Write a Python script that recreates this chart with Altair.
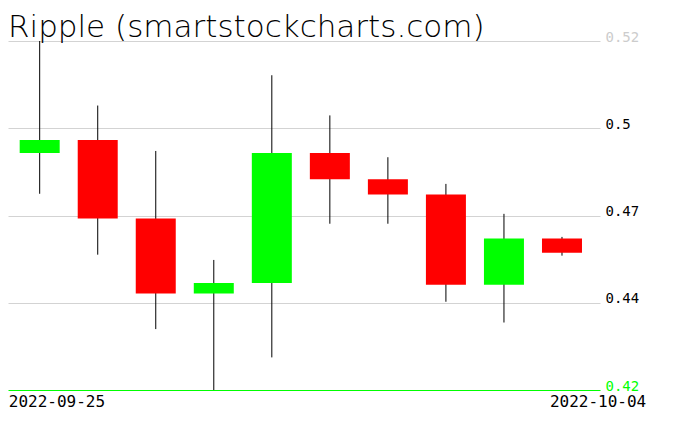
import altair as alt
import pandas as pd

# Candles (Ripple, daily)
dates = ["2022-09-25", "2022-09-26", "2022-09-27", "2022-09-28", "2022-09-29",
         "2022-09-30", "2022-10-01", "2022-10-02", "2022-10-03", "2022-10-04"]
opens = [0.4880, 0.4919, 0.4681, 0.4453, 0.4485, 0.4880, 0.4800, 0.4754, 0.4480, 0.4620]
highs = [0.5220, 0.5024, 0.4886, 0.4555, 0.5116, 0.4994, 0.4867, 0.4786, 0.4695, 0.4625]
lows = [0.4756, 0.4571, 0.4345, 0.4160, 0.4259, 0.4665, 0.4665, 0.4428, 0.4365, 0.4568]
closes = [0.4919, 0.4681, 0.4453, 0.4485, 0.4880, 0.4800, 0.4754, 0.4480, 0.4620, 0.4577]

y_ticks = [0.416, 0.4425, 0.469, 0.4955, 0.522]
title_text = "Ripple (smartstockcharts.com)"

df = pd.DataFrame({
    "idx": list(range(len(dates))),
    "date": dates,
    "open": opens,
    "high": highs,
    "low": lows,
    "close": closes,
})
df["dir"] = ["up" if c >= o else "down" for o, c in zip(opens, closes)]

x_lo, x_hi = -0.546, 9.655
x_scale = alt.Scale(domain=[x_lo, x_hi], nice=False, zero=False, padding=0)
y_scale = alt.Scale(domain=[y_ticks[0], y_ticks[-1]], nice=False, zero=False, padding=0)

label_expr = f"datum.value < 0 ? '{dates[0]}' : '{dates[-1]}'"

x_axis = alt.Axis(
    values=[x_lo + 0.005, x_hi - 0.005],
    labelExpr=label_expr,
    grid=False, domain=False, ticks=False, tickSize=0,
    labelFont="DejaVu Sans Mono", labelFontSize=16, labelColor="black",
    labelBaseline="alphabetic", labelPadding=16,
    labelAlign={"condition": {"test": "datum.value < 0", "value": "left"}, "value": "right"},
    labelOffset={"condition": {"test": "datum.value < 0", "value": 0}, "value": 46},
    labelBound=False, labelFlush=False, labelOverlap=False, title=None,
)

y_axis = alt.Axis(
    orient="right", values=y_ticks, format=".2~f",
    grid=True,
    gridColor={"condition": {"test": f"datum.value < {y_ticks[0] + 0.001}", "value": "#00ff00"}, "value": "#d3d3d3"},
    domain=False, ticks=False, tickSize=0,
    labelFont="DejaVu Sans Mono", labelFontSize=14,
    labelColor={"condition": [
        {"test": f"datum.value < {y_ticks[0] + 0.001}", "value": "#00ff00"},
        {"test": f"datum.value > {y_ticks[-1] - 0.001}", "value": "#cccccc"},
    ], "value": "black"},
    labelBaseline="alphabetic", labelPadding=5,
    labelBound=False, labelFlush=False, labelOverlap=False, title=None,
)

base = alt.Chart(df)

wicks = base.mark_rule(color="black", strokeWidth=1).encode(
    x=alt.X("idx:Q", scale=x_scale, axis=x_axis),
    y=alt.Y("low:Q", scale=y_scale, axis=y_axis),
    y2="high:Q",
)

bodies = base.mark_bar(size=40).encode(
    x=alt.X("idx:Q", scale=x_scale),
    y=alt.Y("open:Q", scale=y_scale),
    y2="close:Q",
    color=alt.Color("dir:N", scale=alt.Scale(domain=["up", "down"], range=["#00ff00", "#ff0000"]), legend=None),
)

title_mark = alt.Chart(pd.DataFrame({"t": [title_text]})).mark_text(
    align="left", baseline="alphabetic", font="DejaVu Sans", fontSize=31,
    fontWeight=200, color="black",
).encode(text="t:N", x=alt.value(0), y=alt.value(-4))

chart = alt.layer(wicks, bodies, title_mark).properties(
    width=592, height=349,
    autosize=alt.AutoSizeParams(type="none"),
    padding={"left": 0, "top": 33, "right": 60, "bottom": 25},
    background="white",
).configure_view(stroke=None)

chart.save("out.html", embed_options={"renderer": "svg", "actions": False})
